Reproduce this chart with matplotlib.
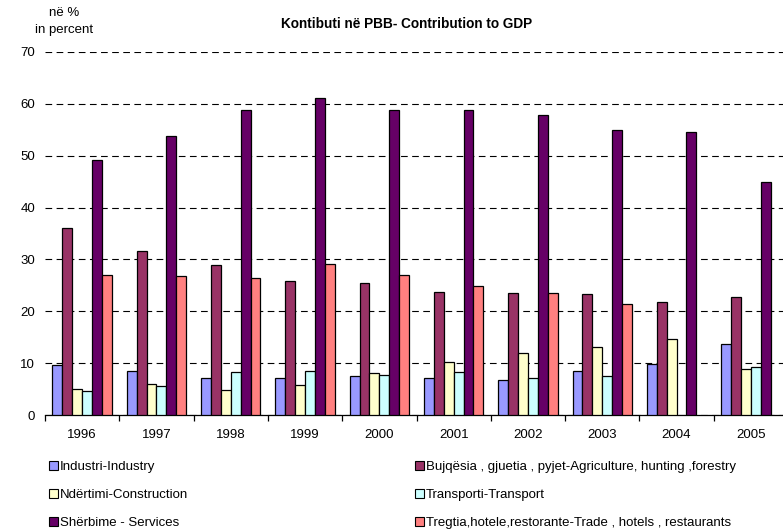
import numpy as np
import matplotlib
matplotlib.use('Agg')
import matplotlib.pyplot as plt
from matplotlib.patches import Patch

plt.rcParams['font.family'] = ['Liberation Sans', 'DejaVu Sans']

# data (percent of GDP)
years = ['1996', '1997', '1998', '1999', '2000', '2001', '2002', '2003', '2004', '2005']
industry = [9.7, 8.6, 7.2, 7.1, 7.6, 7.2, 6.7, 8.6, 9.9, 13.7]
agriculture = [36.0, 31.6, 28.9, 25.9, 25.4, 23.7, 23.6, 23.3, 21.9, 22.7]
construction = [5.0, 6.0, 4.9, 5.9, 8.1, 10.3, 11.9, 13.2, 14.6, 8.9]
transport = [4.7, 5.6, 8.4, 8.6, 7.8, 8.4, 7.2, 7.5, np.nan, 9.3]
services = [49.2, 53.7, 58.8, 61.1, 58.8, 58.7, 57.8, 54.9, 54.6, 45.0]
trade = [27.0, 26.8, 26.4, 29.1, 27.0, 24.8, 23.5, 21.4, np.nan, np.nan]

labels = ['Industri-Industry',
          'Bujqësia , gjuetia , pyjet-Agriculture, hunting ,forestry',
          'Ndërtimi-Construction',
          'Transporti-Transport',
          'Shërbime - Services',
          'Tregtia,hotele,restorante-Trade , hotels , restaurants']
colors = ['#9999FF', '#993366', '#FFFFCC', '#CCFFFF', '#660066', '#FF8080']
series = [industry, agriculture, construction, transport, services, trade]

fig = plt.figure(figsize=(7.83, 5.31), dpi=100)
ax = fig.add_axes([45 / 783, 115.7 / 531, 743 / 783, 363.6 / 531])

x = np.arange(len(years))
w = 0.1334
for k, (vals, c) in enumerate(zip(series, colors)):
    ax.bar(x + (k - 2.5) * w, vals, w, color=c, edgecolor='black', linewidth=0.9, zorder=3)

ax.set_xlim(-0.5, len(years) - 0.5)
ax.set_ylim(0, 70)
ax.set_yticks(range(0, 71, 10))
ax.yaxis.grid(True, color='black', linestyle=(0, (6, 4)), linewidth=0.8, zorder=0)
ax.set_axisbelow(True)

ax.set_xticks(x)
ax.set_xticklabels(years, fontsize=9.5)
ax.set_xticks(np.arange(-0.5, len(years), 1), minor=True)
ax.tick_params(axis='x', which='major', length=0, pad=10)
ax.tick_params(axis='x', which='minor', length=4, width=0.9, direction='out')
ax.tick_params(axis='y', length=0, pad=7, labelsize=9.5)

for s in ['top', 'right', 'left']:
    ax.spines[s].set_visible(False)
ax.spines['bottom'].set_linewidth(0.9)

fig.text(407 / 783, 1 - 24 / 531, 'Kontibuti në PBB- Contribution to GDP',
         ha='center', va='center', fontsize=9.8, fontweight='bold')
fig.text(64 / 783, 1 - 21.5 / 531, 'në %\nin percent', ha='center', va='center',
         fontsize=9.5, linespacing=1.5)

handles = [Patch(facecolor=c, edgecolor='black', linewidth=0.8) for c in colors]
leg_kw = dict(frameon=False, fontsize=9.5, handlelength=0.7, handleheight=0.7,
              handletextpad=0.15, labelspacing=1.2, borderaxespad=0, borderpad=0)
fig.legend([handles[0], handles[2], handles[4]], [labels[0], labels[2], labels[4]],
           loc='upper left', bbox_to_anchor=(49 / 783, 1 - 461 / 531), **leg_kw)
fig.legend([handles[1], handles[3], handles[5]], [labels[1], labels[3], labels[5]],
           loc='upper left', bbox_to_anchor=(415 / 783, 1 - 461 / 531), **leg_kw)

fig.savefig('out.png', dpi=100)
